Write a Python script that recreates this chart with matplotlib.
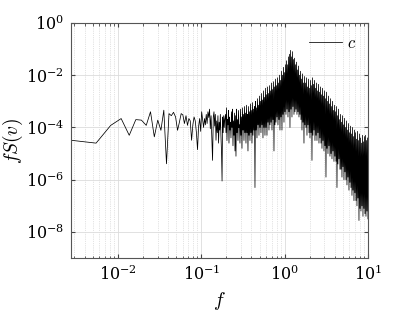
import numpy as np
import matplotlib
matplotlib.use("Agg")
import matplotlib.pyplot as plt

plt.rcParams['mathtext.fontset'] = 'cm'
plt.rcParams['font.family'] = 'serif'
plt.rcParams['font.serif'] = ['DejaVu Serif']

# frequency step of the spectrum (first bin sits on the left edge)
df = 0.00273

# log10 of f*S(v) for the first 70 bins (individually visible)
lg_low = [-4.49, -4.60, -3.92, -3.66, -4.30, -3.70, -3.72, -3.92, -3.40, -4.36,
          -3.72, -4.11, -3.34, -5.39, -3.47, -3.55, -3.42, -3.60, -4.11, -3.80,
          -3.47, -3.52, -3.85, -3.55, -3.92, -3.66, -3.75, -4.49, -3.90, -3.60,
          -3.75, -4.20, -4.85, -3.95, -3.66, -4.15, -3.40, -3.70, -4.00, -3.66,
          -3.90, -3.50, -3.85, -3.40, -3.62, -3.30, -4.05, -3.55, -4.40, -5.26,
          -3.60, -3.40, -3.95, -3.50, -4.49, -3.75, -4.20, -3.55, -4.60, -3.80,
          -4.10, -3.50, -4.30, -4.90, -6.05, -3.60, -4.20, -3.55, -4.00, -3.70]

# dense part (0.195 .. 10): upper and lower excursions of the trace, log10
lg_peaks = [-3.5, -3.25, -3.7, -3.35, -3.6, -3.8, -3.4, -3.3, -3.75, -3.45,
            -3.55, -3.3, -3.7, -3.35, -3.9, -3.3, -3.6, -3.25, -3.5, -3.2,
            -3.45, -3.15, -3.5, -3.2, -3.4, -3.1, -3.35, -3.05, -3.3, -3.2,
            -3.0, -3.25, -2.9, -3.15, -2.8, -3.0, -2.7, -2.95, -2.6, -2.85,
            -2.5, -2.75, -2.45, -2.7, -2.4, -2.6, -2.3, -2.55, -2.25, -2.45,
            -2.15, -2.4, -2.1, -2.3, -2.0, -2.2, -1.85, -2.0, -1.7, -1.9,
            -1.6, -1.45, -1.6, -1.3, -1.2, -1.05, -1.3, -1.1, -1.4, -1.35,
            -1.6, -1.5, -1.8, -1.65, -2.0, -1.85, -2.15, -1.95, -2.3, -2.05,
            -2.3, -2.1, -2.45, -2.15, -2.5, -2.2, -2.4, -2.1, -2.35, -2.2,
            -2.5, -2.3, -2.6, -2.35, -2.65, -2.45, -2.75, -2.5, -2.8, -2.6,
            -2.9, -2.65, -3.0, -2.8, -3.1, -2.9, -3.2, -3.0, -3.35, -3.15,
            -3.4, -3.2, -3.55, -3.3, -3.7, -3.5, -3.8, -3.55, -3.9, -3.65,
            -4.0, -3.75, -4.1, -3.85, -4.2, -3.95, -4.25, -4.0, -4.35, -4.1,
            -4.2, -4.45, -4.15, -4.5, -4.25, -4.4, -4.6, -4.3, -4.55, -4.35,
            -4.3, -4.5, -4.4]
lg_troughs = [-4.2, -4.5, -3.9, -4.6, -4.1, -4.4, -4.0, -4.7, -4.3, -4.9,
              -5.1, -4.2, -4.5, -4.0, -4.6, -4.3, -4.8, -4.1, -4.5, -4.2,
              -4.6, -4.2, -4.9, -4.3, -4.5, -4.2, -4.6, -4.3, -4.1, -6.3,
              -4.1, -4.4, -3.9, -4.3, -4.0, -4.2, -3.9, -4.4, -4.0, -4.3,
              -4.0, -4.3, -3.8, -4.1, -3.9, -3.8, -4.1, -3.7, -4.9, -3.9,
              -3.8, -3.6, -3.9, -3.7, -4.1, -3.6, -4.1, -3.5, -3.8, -3.4,
              -3.5, -3.3, -3.6, -3.4, -4.0, -3.3, -3.6, -3.2, -3.5, -3.4,
              -3.3, -3.5, -3.4, -3.6, -3.5, -3.7, -4.1, -3.8, -4.6, -3.9,
              -4.0, -4.3, -3.9, -4.2, -4.4, -4.2, -5.26, -4.3, -4.1, -4.5,
              -4.3, -4.5, -4.2, -4.6, -4.4, -4.6, -4.8, -4.5, -4.9, -4.7,
              -5.9, -4.8, -5.0, -4.7, -5.1, -5.0, -5.2, -4.9, -5.3, -5.1,
              -5.3, -6.3, -5.4, -5.2, -5.6, -5.6, -5.9, -5.5, -6.0, -5.7,
              -6.0, -6.2, -5.9, -6.4, -6.1, -6.3, -6.6, -6.4, -6.8, -6.5,
              -6.8, -7.0, -6.7, -7.56, -7.1, -7.2, -7.0, -7.4, -7.1, -7.3,
              -7.4, -7.2, -7.5]

f_low = df * np.arange(1, len(lg_low) + 1)
lg_dense = np.column_stack([lg_peaks, lg_troughs]).ravel()
f_dense = np.geomspace(0.195, 10, len(lg_dense))

f = np.concatenate([f_low, f_dense])
fS = 10.0 ** np.concatenate([lg_low, lg_dense])

fig = plt.figure(figsize=(4.07, 3.14), dpi=100)
ax = fig.add_axes([0.1744, 0.178, 0.7297, 0.749])
ax.loglog(f, fS, color='k', lw=0.55, label='$c$')
ax.set_xlim(df, 10)
ax.set_ylim(1e-9, 1)
ax.set_yticks([1e-8, 1e-6, 1e-4, 1e-2, 1])
ax.set_xticks([1e-2, 1e-1, 1, 10])
ax.grid(True, which='major', color='#dcdcdc', lw=0.6, ls='-')
ax.grid(True, which='minor', color='#c8c8c8', lw=0.5, ls=':')
ax.tick_params(which='both', direction='in', top=True, right=True,
               color='#444444', labelsize=11.5)
ax.tick_params(which='major', length=3, pad=5)
ax.tick_params(which='minor', length=1.8)
for s in ax.spines.values():
    s.set_color('#555555')
    s.set_linewidth(0.8)
ax.set_xlabel('$f$', fontsize=14)
ax.set_ylabel('$fS(v)$', fontsize=14)
ax.yaxis.set_label_coords(-0.155, 0.5)
ax.xaxis.set_label_coords(0.5, -0.135)
ax.legend(loc='upper right', frameon=False, fontsize=12, handlelength=2.0,
          borderaxespad=0.3, handletextpad=0.3)
fig.savefig('out.png', dpi=100)
